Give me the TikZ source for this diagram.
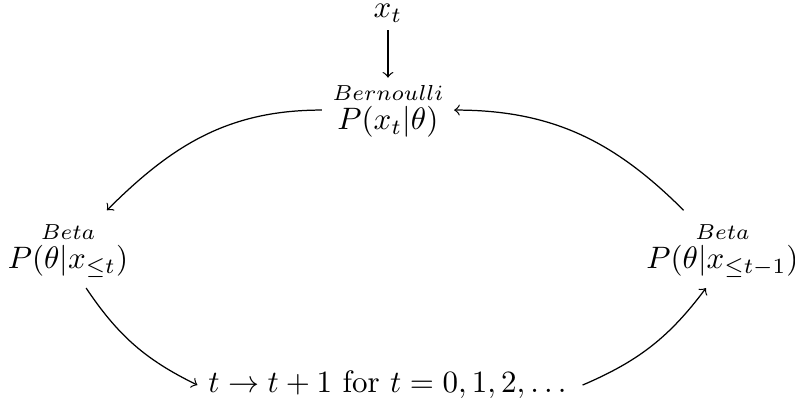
\documentclass[tikz,border=0pt]{standalone}
\usepackage{amsmath,amssymb}
\usepackage{tikz}
\usetikzlibrary{arrows,positioning}

\begin{document}
\begin{tikzpicture}[auto]
        \tikzstyle{dist} = [anchor=base, inner sep=3.3pt]
        \tikzstyle{arrow} = [->]

        \useasboundingbox (0,0) rectangle (9.014,-4.558);

        \node (xt) [dist] at (4.399,-0.204) {$x_t$};
        \node (lik) [dist] at (4.399,-1.474) {$\overset{Bernoulli}{P(x_t|\theta)}$};
        \node (post) [dist] at (0.771,-3.045) {$\overset{Beta}{P(\theta|x_{\leq t})}$};
        \node (prior) [dist] at (8.192,-3.045) {$\overset{Beta}{P(\theta|x_{\leq t-1})}$};
        \node (step) [dist] at (4.422,-4.456) {$t \rightarrow t+1$ for $t=0,1,2,\dots$};

        \draw[arrow, shorten <=-1pt, shorten >=-2pt] (xt) -- (lik);
        \draw[arrow] (lik) to[out=180, in=45] (post);
        \draw[arrow] (post.-65) to[bend right=15] (step.west);
        \draw[arrow] (step.east) to[bend right=15] (prior.-113);
        \draw[arrow] (prior) to[out=135, in=0] (lik);
    \end{tikzpicture}
\end{document}
